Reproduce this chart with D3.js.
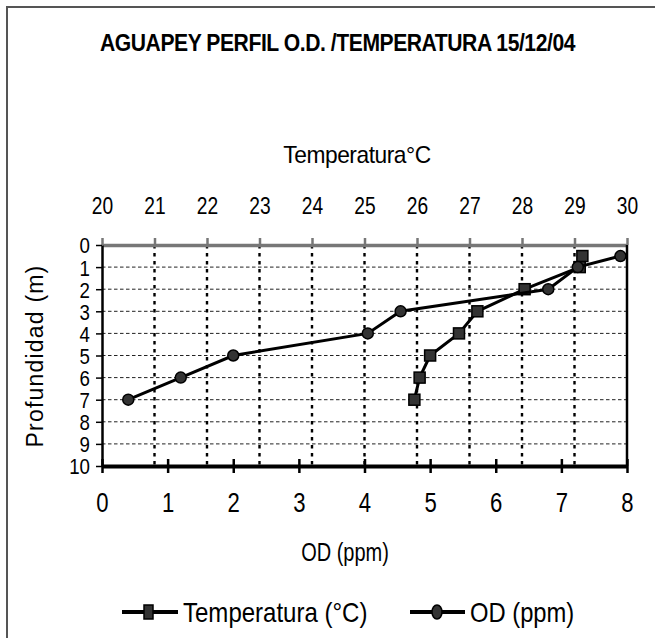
<!DOCTYPE html>
<html>
<head>
<meta charset='utf-8'>
<title>Aguapey perfil OD / Temperatura</title>
<style>
  body { margin: 0; background: #fff; }
  text { font-family: 'Liberation Sans', Arial, sans-serif; fill: #000; }
</style>
<script src='https://d3js.org/d3.v7.min.js'></script>
</head>
<body>
<div id="chart"></div>
<script>
// ******* Data *******
const depths = [0.5, 1, 2, 3, 4, 5, 6, 7];
const temperatura = [29.15, 29.1, 28.05, 27.15, 26.8, 26.25, 26.05, 25.95];
const od = [7.9, 7.25, 6.8, 4.55, 4.05, 2.0, 1.2, 0.4];

const tempTicks = [20, 21, 22, 23, 24, 25, 26, 27, 28, 29, 30];
const odTicks = [0, 1, 2, 3, 4, 5, 6, 7, 8];
const depthTicks = [0, 1, 2, 3, 4, 5, 6, 7, 8, 9, 10];

// ******* Layout *******
const width = 655, height = 638;
const plot = { left: 102, right: 627, top: 245, bottom: 466 };

const svg = d3.select("#chart").append("svg")
    .attr("width", width)
    .attr("height", height);

// the scan uses a narrow font; squeeze the text horizontally
function narrow(sel, x, y, sx) {
  sel.attr("transform", `translate(${x}, ${y}) scale(${sx}, 1)`);
  return sel;
}

// outer frame (cut off on the right and bottom like the scan)
svg.append("rect")
    .attr("x", 7).attr("y", 7)
    .attr("width", 700).attr("height", 700)
    .attr("fill", "none")
    .attr("stroke", "#555")
    .attr("stroke-width", 2);

// ******* Scales *******
const xTemp = d3.scaleLinear().domain([20, 30]).range([plot.left, plot.right]);
const xOd = d3.scaleLinear().domain([0, 8]).range([plot.left, plot.right]);
const y = d3.scaleLinear().domain([0, 10]).range([plot.top, plot.bottom]);

// ******* Grid *******
svg.append("g")
    .selectAll("line")
    .data(depthTicks.slice(1, -1))
    .join("line")
    .attr("x1", plot.left).attr("x2", plot.right)
    .attr("y1", d => y(d)).attr("y2", d => y(d))
    .attr("stroke", "#222")
    .attr("stroke-width", 1)
    .attr("stroke-dasharray", "3.5,2.5");

svg.append("g")
    .selectAll("line")
    .data(tempTicks.slice(1, -1))
    .join("line")
    .attr("x1", d => xTemp(d)).attr("x2", d => xTemp(d))
    .attr("y1", plot.top).attr("y2", plot.bottom)
    .attr("stroke", "#000")
    .attr("stroke-width", 2.4)
    .attr("stroke-dasharray", "3.5,4.5");

// ******* Axes *******
// top (temperature), grey
const topAxis = svg.append("g")
    .attr("transform", `translate(0, ${plot.top})`)
    .call(d3.axisTop(xTemp).tickValues(tempTicks).tickSize(7).tickSizeOuter(0).tickPadding(24));
topAxis.select(".domain").attr("stroke", "#777").attr("stroke-width", 3.5);
topAxis.selectAll(".tick line").attr("stroke", "#777").attr("stroke-width", 2.5);
topAxis.selectAll(".tick text").attr("font-size", 24).attr("fill", "#000")
    .attr("transform", "scale(0.8, 1)");

// bottom (OD)
const bottomAxis = svg.append("g")
    .attr("transform", `translate(0, ${plot.bottom})`)
    .call(d3.axisBottom(xOd).tickValues(odTicks).tickSize(7).tickSizeOuter(0).tickPadding(20));
bottomAxis.select(".domain").attr("stroke", "#000").attr("stroke-width", 4);
bottomAxis.selectAll(".tick line").attr("y1", -7).attr("stroke", "#000").attr("stroke-width", 2.5);
bottomAxis.selectAll(".tick text").attr("font-size", 27).attr("fill", "#000")
    .attr("transform", "scale(0.82, 1)");

// left (depth)
const leftSx = 0.85;
const leftAxis = svg.append("g")
    .attr("transform", `translate(${plot.left}, 0)`)
    .call(d3.axisLeft(y).tickValues(depthTicks).tickSize(6).tickSizeOuter(0));
leftAxis.select(".domain").attr("stroke", "#000").attr("stroke-width", 2.5);
leftAxis.selectAll(".tick line").attr("stroke", "#000").attr("stroke-width", 1.5);
leftAxis.selectAll(".tick text").attr("font-size", 22).attr("fill", "#000")
    .attr("x", -12 / leftSx).attr("dy", "0.36em")
    .attr("transform", `scale(${leftSx}, 1)`);

// right border
svg.append("line")
    .attr("x1", plot.right).attr("x2", plot.right)
    .attr("y1", plot.top).attr("y2", plot.bottom)
    .attr("stroke", "#000").attr("stroke-width", 2.5);

svg.selectAll(".domain").attr("fill", "none");
svg.selectAll(".tick text").attr("font-family", null);

// ******* Series *******
const tempPts = depths.map((d, i) => [xTemp(temperatura[i]), y(d)]);
const odPts = depths.map((d, i) => [xOd(od[i]), y(d)]);
const line = d3.line();

svg.append("path")
    .attr("d", line(tempPts))
    .attr("fill", "none").attr("stroke", "#000").attr("stroke-width", 3);

svg.append("g")
    .selectAll("rect")
    .data(tempPts)
    .join("rect")
    .attr("x", d => d[0] - 5.5).attr("y", d => d[1] - 5.5)
    .attr("width", 11).attr("height", 11)
    .attr("fill", "#333").attr("stroke", "#000").attr("stroke-width", 1.5);

svg.append("path")
    .attr("d", line(odPts))
    .attr("fill", "none").attr("stroke", "#000").attr("stroke-width", 3);

svg.append("g")
    .selectAll("circle")
    .data(odPts)
    .join("circle")
    .attr("cx", d => d[0]).attr("cy", d => d[1])
    .attr("r", 5.5)
    .attr("fill", "#333").attr("stroke", "#000").attr("stroke-width", 1.5);

// ******* Titles *******
narrow(svg.append("text"), 337.5, 51, 0.88)
    .attr("text-anchor", "middle")
    .attr("font-size", 24).attr("font-weight", "bold")
    .attr("letter-spacing", -0.5)
    .text("AGUAPEY PERFIL O.D. /TEMPERATURA 15/12/04");

narrow(svg.append("text"), 357, 163, 0.95)
    .attr("text-anchor", "middle")
    .attr("font-size", 24)
    .attr("letter-spacing", -0.5)
    .text("Temperatura°C");

narrow(svg.append("text"), 345, 561, 0.8)
    .attr("text-anchor", "middle")
    .attr("font-size", 25)
    .text("OD (ppm)");

svg.append("text")
    .attr("transform", "translate(43, 356) rotate(-90)")
    .attr("text-anchor", "middle")
    .attr("font-size", 23)
    .attr("letter-spacing", 1.2)
    .text("Profundidad (m)");

// ******* Legend *******
const legendY = 612;
const legend = svg.append("g");

legend.append("line")
    .attr("x1", 122).attr("x2", 178).attr("y1", legendY).attr("y2", legendY)
    .attr("stroke", "#000").attr("stroke-width", 4);
legend.append("rect")
    .attr("x", 144).attr("y", legendY - 7).attr("width", 9).attr("height", 14)
    .attr("fill", "#333").attr("stroke", "#000").attr("stroke-width", 1.5);
narrow(legend.append("text"), 183, legendY + 10, 0.89)
    .attr("font-size", 27)
    .text("Temperatura (°C)");

legend.append("line")
    .attr("x1", 410).attr("x2", 465).attr("y1", legendY).attr("y2", legendY)
    .attr("stroke", "#000").attr("stroke-width", 4);
legend.append("ellipse")
    .attr("cx", 437).attr("cy", legendY).attr("rx", 5).attr("ry", 7)
    .attr("fill", "#333").attr("stroke", "#000").attr("stroke-width", 1.5);
narrow(legend.append("text"), 470, legendY + 10, 0.88)
    .attr("font-size", 27)
    .text("OD (ppm)");
</script>
</body>
</html>
